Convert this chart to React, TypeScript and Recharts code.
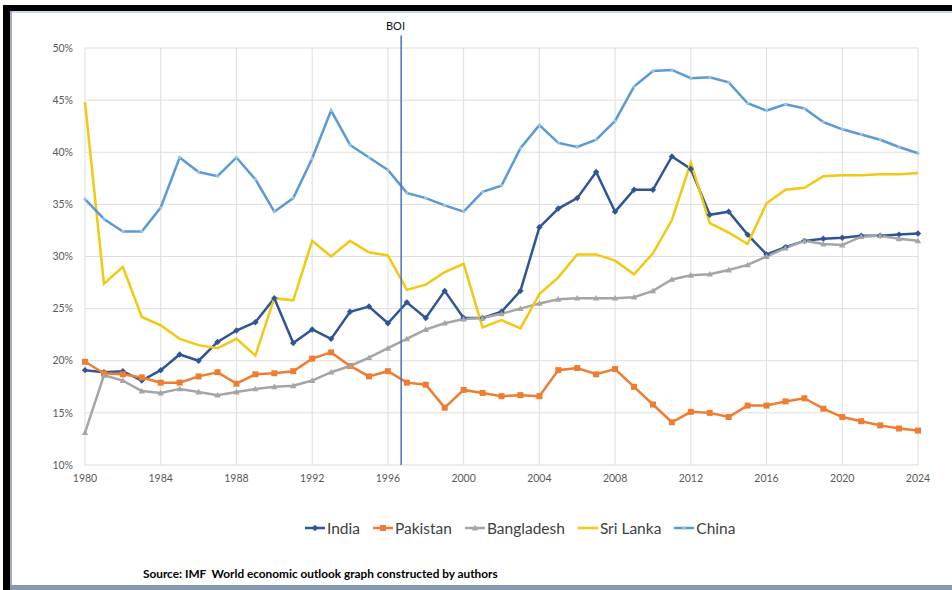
import React from 'react';
import { LineChart, Line, XAxis, YAxis, CartesianGrid, ReferenceLine } from 'recharts';

// savings / GDP style ratios, %
const years = [
  1980, 1981, 1982, 1983, 1984, 1985, 1986, 1987, 1988, 1989, 1990, 1991, 1992, 1993, 1994,
  1995, 1996, 1997, 1998, 1999, 2000, 2001, 2002, 2003, 2004, 2005, 2006, 2007, 2008, 2009,
  2010, 2011, 2012, 2013, 2014, 2015, 2016, 2017, 2018, 2019, 2020, 2021, 2022, 2023, 2024,
];

const india = [
  19.1, 18.9, 19.0, 18.1, 19.1, 20.6, 20.0, 21.8, 22.9, 23.7, 26.0, 21.7, 23.0, 22.1, 24.7,
  25.2, 23.6, 25.6, 24.1, 26.7, 24.1, 24.1, 24.7, 26.7, 32.8, 34.6, 35.6, 38.1, 34.3, 36.4,
  36.4, 39.6, 38.4, 34.0, 34.3, 32.1, 30.2, 30.9, 31.5, 31.7, 31.8, 32.0, 32.0, 32.1, 32.2,
];

const pakistan = [
  19.9, 18.8, 18.7, 18.4, 17.9, 17.9, 18.5, 18.9, 17.8, 18.7, 18.8, 19.0, 20.2, 20.8, 19.5,
  18.5, 19.0, 17.9, 17.7, 15.5, 17.2, 16.9, 16.6, 16.7, 16.6, 19.1, 19.3, 18.7, 19.2, 17.5,
  15.8, 14.1, 15.1, 15.0, 14.6, 15.7, 15.7, 16.1, 16.4, 15.4, 14.6, 14.2, 13.8, 13.5, 13.3,
];

const bangladesh = [
  13.1, 18.6, 18.1, 17.1, 16.9, 17.3, 17.0, 16.7, 17.0, 17.3, 17.5, 17.6, 18.1, 18.9, 19.5,
  20.3, 21.2, 22.1, 23.0, 23.6, 24.0, 24.1, 24.5, 25.0, 25.5, 25.9, 26.0, 26.0, 26.0, 26.1,
  26.7, 27.8, 28.2, 28.3, 28.7, 29.2, 30.0, 30.8, 31.5, 31.2, 31.1, 31.9, 32.0, 31.7, 31.5,
];

const sriLanka = [
  44.8, 27.4, 29.0, 24.2, 23.4, 22.1, 21.5, 21.2, 22.1, 20.5, 26.0, 25.8, 31.5, 30.0, 31.5,
  30.4, 30.1, 26.8, 27.3, 28.5, 29.3, 23.2, 23.9, 23.1, 26.4, 28.0, 30.2, 30.2, 29.6, 28.3,
  30.3, 33.5, 39.0, 33.2, 32.3, 31.2, 35.1, 36.4, 36.6, 37.7, 37.8, 37.8, 37.9, 37.9, 38.0,
];

const china = [
  35.5, 33.6, 32.4, 32.4, 34.7, 39.5, 38.1, 37.7, 39.5, 37.4, 34.3, 35.6, 39.4, 44.0, 40.7,
  39.5, 38.3, 36.1, 35.6, 34.9, 34.3, 36.2, 36.8, 40.4, 42.6, 40.9, 40.5, 41.2, 43.0, 46.3,
  47.8, 47.9, 47.1, 47.2, 46.7, 44.7, 44.0, 44.6, 44.2, 42.9, 42.2, 41.7, 41.2, 40.5, 39.9,
];

const xTicks = [1980, 1984, 1988, 1992, 1996, 2000, 2004, 2008, 2012, 2016, 2020, 2024];
const yTicks = [10, 15, 20, 25, 30, 35, 40, 45, 50];
const boiYear = 1996.7;

const data = years.map((year, i) => ({
  year,
  India: india[i],
  Pakistan: pakistan[i],
  Bangladesh: bangladesh[i],
  'Sri Lanka': sriLanka[i],
  China: china[i],
}));

type Shape = 'diamond' | 'square' | 'triangle' | 'circle' | 'none';

const SERIES: { key: string; color: string; shape: Shape }[] = [
  { key: 'India', color: '#2F5597', shape: 'diamond' },
  { key: 'Pakistan', color: '#ED7D31', shape: 'square' },
  { key: 'Bangladesh', color: '#A5A5A5', shape: 'triangle' },
  { key: 'Sri Lanka', color: '#F2C811', shape: 'none' },
  { key: 'China', color: '#5B9BD5', shape: 'circle' },
];

const marker = (shape: Shape, color: string, cx: number, cy: number, key?: string) => {
  switch (shape) {
    case 'diamond':
      return <path key={key} d={`M${cx},${cy - 3.2}L${cx + 3.2},${cy}L${cx},${cy + 3.2}L${cx - 3.2},${cy}Z`} fill={color} />;
    case 'square':
      return <rect key={key} x={cx - 3} y={cy - 3} width={6} height={6} fill={color} />;
    case 'triangle':
      return <path key={key} d={`M${cx},${cy - 3.2}L${cx + 3.2},${cy + 2.4}L${cx - 3.2},${cy + 2.4}Z`} fill={color} />;
    case 'circle':
      return <circle key={key} cx={cx} cy={cy} r={1.6} fill="#9cc3e8" />;
    default:
      return <g key={key} />;
  }
};

const dotFor = (shape: Shape, color: string) => (props: any) => {
  const { cx, cy, index } = props;
  const key = `${shape}-${index}`;
  if (cx == null || cy == null) return <g key={key} />;
  return marker(shape, color, cx, cy, key);
};

const ChartLegend = () => (
  <div
    style={{
      position: 'absolute', left: 305, top: 519, display: 'flex', alignItems: 'center',
      fontFamily: 'Lato, sans-serif', fontSize: 15.5, color: '#404040', whiteSpace: 'nowrap',
    }}
  >
    {SERIES.map((s) => (
      <div key={s.key} style={{ display: 'flex', alignItems: 'center', marginRight: 13 }}>
        <svg width={20} height={12} style={{ marginRight: 2 }}>
          <line x1={0} y1={6} x2={20} y2={6} stroke={s.color} strokeWidth={2.5} />
          {marker(s.shape, s.color, 10, 6)}
        </svg>
        <span>{s.key}</span>
      </div>
    ))}
  </div>
);

export default function App() {
  return (
    <div style={{ position: 'absolute', left: 0, top: 0, width: 952, height: 590, background: '#fff', overflow: 'hidden' }}>
      {/* screenshot frame */}
      <div style={{ position: 'absolute', left: 3, top: 5, width: 949, height: 6, background: '#000' }} />
      <div style={{ position: 'absolute', left: 3, top: 5, width: 7, height: 585, background: '#000' }} />
      <div style={{ position: 'absolute', left: 10, top: 11, width: 942, height: 2, background: '#c9d6e4' }} />
      <div style={{ position: 'absolute', left: 10, top: 11, width: 2, height: 574, background: '#9fb0c4' }} />
      <div style={{ position: 'absolute', left: 10, top: 585, width: 942, height: 5, background: '#8599b0' }} />

      <div style={{ position: 'absolute', left: 0, top: 0 }}>
        <LineChart width={952} height={590} data={data} margin={{ top: 48, right: 34, bottom: 95, left: 25 }}>
          <CartesianGrid stroke="#dedede" strokeWidth={1} />
          <XAxis
            dataKey="year"
            type="number"
            domain={[1980, 2024]}
            ticks={xTicks}
            interval={0}
            height={30}
            axisLine={false}
            tickLine={false}
            tickMargin={4}
            tick={{ fill: '#595959', fontSize: 10.5, fontFamily: 'Lato, sans-serif' }}
          />
          <YAxis
            width={60}
            domain={[10, 50]}
            ticks={yTicks}
            interval={0}
            axisLine={false}
            tickLine={false}
            tickMargin={6}
            tickFormatter={(v: number) => `${v}%`}
            tick={{ fill: '#595959', fontSize: 10.5, fontFamily: 'Lato, sans-serif' }}
          />
          {SERIES.map((s) => (
            <Line
              key={s.key}
              type="linear"
              dataKey={s.key}
              stroke={s.color}
              strokeWidth={2.5}
              dot={s.shape === 'none' ? false : dotFor(s.shape, s.color)}
              activeDot={false}
              isAnimationActive={false}
            />
          ))}
          <ReferenceLine
            segment={[{ x: boiYear, y: 10 }, { x: boiYear, y: 51.2 }]}
            ifOverflow="visible"
            stroke="#4472C4"
            strokeWidth={1.5}
          />
        </LineChart>
      </div>

      <ChartLegend />

      <div style={{ position: 'absolute', left: 386, top: 19, fontFamily: 'Lato, sans-serif', fontSize: 11, color: '#111' }}>BOI</div>
      <div style={{ position: 'absolute', left: 143, top: 566, fontFamily: 'Lato, sans-serif', fontSize: 11.8, fontWeight: 700, color: '#000', whiteSpace: 'pre' }}>
        {'Source: IMF  World economic outlook graph constructed by authors'}
      </div>
    </div>
  );
}
